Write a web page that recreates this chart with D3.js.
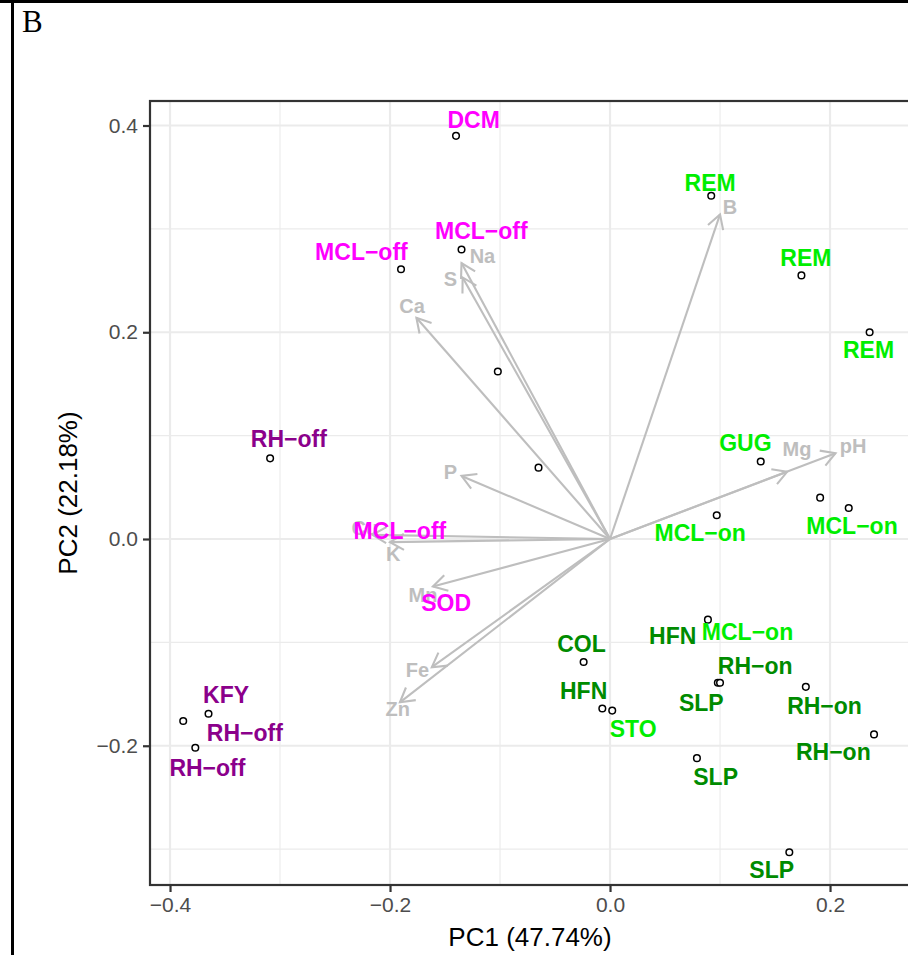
<!DOCTYPE html>
<html>
<head>
<meta charset="utf-8">
<script src="https://cdn.jsdelivr.net/npm/d3@7"></script>
<style>
  body { margin: 0; background: #fff; }
  svg { display: block; }
  text { font-family: "Liberation Sans", Arial, sans-serif; }
</style>
</head>
<body>
<script>
// PCA biplot, panel B

// sample scores (points)
var pointX = [-0.140, -0.135, -0.190, -0.102, -0.065, -0.309, -0.388, -0.365, -0.377,
              0.092, 0.174, 0.236, 0.137, 0.097, 0.191, 0.217, -0.024, -0.007, 0.002,
              0.089, 0.098, 0.100, 0.178, 0.240, 0.079, 0.163];
var pointY = [0.390, 0.280, 0.261, 0.162, 0.069, 0.078, -0.176, -0.169, -0.202,
              0.332, 0.255, 0.200, 0.075, 0.023, 0.040, 0.030, -0.119, -0.164, -0.166,
              -0.078, -0.139, -0.139, -0.143, -0.189, -0.212, -0.303];

// sample labels (placed by repel in the original)
var labelText = ["DCM", "MCL\u2212off", "MCL\u2212off", "RH\u2212off", "MCL\u2212off", "SOD",
                 "KFY", "RH\u2212off", "RH\u2212off", "REM", "REM", "REM", "GUG",
                 "MCL\u2212on", "MCL\u2212on", "COL", "HFN", "STO", "HFN", "MCL\u2212on",
                 "RH\u2212on", "SLP", "RH\u2212on", "RH\u2212on", "SLP", "SLP"];
var labelGroup = ["a", "a", "a", "b", "a", "a", "b", "b", "b", "c", "c", "c", "c",
                  "c", "c", "d", "d", "c", "d", "c", "d", "d", "d", "d", "d", "d"];
var labelX = [-0.124, -0.117, -0.226, -0.292, -0.191, -0.149, -0.349, -0.332, -0.366,
              0.091, 0.178, 0.235, 0.123, 0.082, 0.220, -0.026, -0.024, 0.021, 0.057,
              0.125, 0.132, 0.083, 0.195, 0.203, 0.096, 0.147];
var labelY = [0.406, 0.298, 0.278, 0.097, 0.008, -0.062, -0.151, -0.187, -0.221,
              0.345, 0.272, 0.183, 0.093, 0.006, 0.013, -0.101, -0.147, -0.184, -0.094,
              -0.090, -0.123, -0.158, -0.161, -0.206, -0.230, -0.320];

// variable loadings (arrows)
var varName = ["B", "Na", "S", "Ca", "P", "Cu", "K", "Mn", "Fe", "Zn", "Mg", "pH"];
var varX = [0.100, -0.135, -0.134, -0.176, -0.135, -0.216, -0.200, -0.161, -0.162, -0.191, 0.161, 0.205];
var varY = [0.314, 0.267, 0.253, 0.214, 0.061, 0.004, -0.003, -0.046, -0.124, -0.158, 0.065, 0.083];
var varLabelX = [0.109, -0.116, -0.145, -0.180, -0.145, -0.223, -0.197, -0.170, -0.175, -0.193, 0.170, 0.221];
var varLabelY = [0.321, 0.274, 0.252, 0.226, 0.065, 0.011, -0.014, -0.054, -0.127, -0.164, 0.087, 0.090];

var xTicks = [-0.4, -0.2, 0.0, 0.2];
var yTicks = [-0.2, 0.0, 0.2, 0.4];
var xMinor = [-0.3, -0.1, 0.1];
var yMinor = [-0.3, -0.1, 0.1, 0.3];

var groupColor = {a: "#FF00FF", b: "#8B008B", c: "#00EE00", d: "#008B00"};

var W = 908, H = 955;
var panel = {left: 150, top: 101, right: 910, bottom: 885};

var svg = d3.select("body").append("svg")
  .attr("width", W)
  .attr("height", H);

var x = d3.scaleLinear().domain([-0.4182, 0.2727]).range([panel.left, panel.right]);
var y = d3.scaleLinear().domain([-0.3347, 0.4237]).range([panel.bottom, panel.top]);

// outer frame of the figure
svg.append("rect").attr("x", 0).attr("y", 0).attr("width", W).attr("height", 3).attr("fill", "#000");
svg.append("rect").attr("x", 11).attr("y", 0).attr("width", 3).attr("height", H).attr("fill", "#000");

svg.append("text")
  .attr("x", 22).attr("y", 32)
  .style("font-family", "'Liberation Serif', 'Times New Roman', serif")
  .style("font-size", "31px")
  .text("B");

var plot = svg.append("g");

// grid
plot.selectAll(".vminor").data(xMinor).enter().append("line")
  .attr("x1", d => x(d)).attr("x2", d => x(d))
  .attr("y1", panel.top).attr("y2", panel.bottom)
  .attr("stroke", "#EBEBEB").attr("stroke-width", 1.1);
plot.selectAll(".hminor").data(yMinor).enter().append("line")
  .attr("y1", d => y(d)).attr("y2", d => y(d))
  .attr("x1", panel.left).attr("x2", panel.right)
  .attr("stroke", "#EBEBEB").attr("stroke-width", 1.1);
plot.selectAll(".vmajor").data(xTicks).enter().append("line")
  .attr("x1", d => x(d)).attr("x2", d => x(d))
  .attr("y1", panel.top).attr("y2", panel.bottom)
  .attr("stroke", "#EBEBEB").attr("stroke-width", 2.2);
plot.selectAll(".hmajor").data(yTicks).enter().append("line")
  .attr("y1", d => y(d)).attr("y2", d => y(d))
  .attr("x1", panel.left).attr("x2", panel.right)
  .attr("stroke", "#EBEBEB").attr("stroke-width", 2.2);

// arrows
var arrowGrey = "#BEBEBE";
var headLen = 16, headAng = Math.PI / 6;
varName.forEach(function(n, i) {
  var x0 = x(0), y0 = y(0), x1 = x(varX[i]), y1 = y(varY[i]);
  plot.append("line")
    .attr("x1", x0).attr("y1", y0).attr("x2", x1).attr("y2", y1)
    .attr("stroke", arrowGrey).attr("stroke-width", 2.1);
  var a = Math.atan2(y1 - y0, x1 - x0);
  var p1 = [x1 - headLen * Math.cos(a - headAng), y1 - headLen * Math.sin(a - headAng)];
  var p2 = [x1 - headLen * Math.cos(a + headAng), y1 - headLen * Math.sin(a + headAng)];
  plot.append("path")
    .attr("d", "M" + p1 + "L" + [x1, y1] + "L" + p2)
    .attr("fill", "none")
    .attr("stroke", arrowGrey).attr("stroke-width", 2.1);
});

plot.selectAll(".varlab").data(varName).enter().append("text")
  .attr("x", (d, i) => x(varLabelX[i]))
  .attr("y", (d, i) => y(varLabelY[i]))
  .attr("dy", "0.36em")
  .attr("text-anchor", "middle")
  .style("font-size", "20px")
  .style("font-weight", "bold")
  .attr("fill", arrowGrey)
  .text(d => d);

// points
plot.selectAll(".pt").data(pointX).enter().append("circle")
  .attr("cx", d => x(d))
  .attr("cy", (d, i) => y(pointY[i]))
  .attr("r", 3.3)
  .attr("fill", "#fff")
  .attr("stroke", "#000")
  .attr("stroke-width", 1.5);

// sample labels
plot.selectAll(".lab").data(labelText).enter().append("text")
  .attr("x", (d, i) => x(labelX[i]))
  .attr("y", (d, i) => y(labelY[i]))
  .attr("dy", "0.36em")
  .attr("text-anchor", "middle")
  .style("font-size", "23px")
  .style("font-weight", "bold")
  .attr("fill", (d, i) => groupColor[labelGroup[i]])
  .text(d => d);

// panel border
plot.append("rect")
  .attr("x", panel.left).attr("y", panel.top)
  .attr("width", panel.right - panel.left).attr("height", panel.bottom - panel.top)
  .attr("fill", "none").attr("stroke", "#333333").attr("stroke-width", 2.2);

// axes
var fmt = d => d3.format(".1f")(d).replace("-", "\u2212");
var xAxis = svg.append("g")
  .attr("transform", "translate(0," + panel.bottom + ")")
  .call(d3.axisBottom(x).tickValues(xTicks).tickFormat(fmt).tickSize(7).tickPadding(5));
var yAxis = svg.append("g")
  .attr("transform", "translate(" + panel.left + ",0)")
  .call(d3.axisLeft(y).tickValues(yTicks).tickFormat(fmt).tickSize(7).tickPadding(5));
[xAxis, yAxis].forEach(function(g) {
  g.select(".domain").remove();
  g.selectAll(".tick line").attr("stroke", "#333333").attr("stroke-width", 2.2);
  g.selectAll(".tick text")
    .attr("fill", "#4D4D4D")
    .style("font-size", "21px")
    .style("font-family", "'Liberation Sans', Arial, sans-serif");
});

svg.append("text")
  .attr("x", (panel.left + panel.right) / 2)
  .attr("y", 946)
  .attr("text-anchor", "middle")
  .style("font-size", "26px")
  .text("PC1 (47.74%)");

svg.append("text")
  .attr("transform", "translate(77," + (panel.top + panel.bottom) / 2 + ") rotate(-90)")
  .attr("text-anchor", "middle")
  .style("font-size", "26px")
  .text("PC2 (22.18%)");
</script>
</body>
</html>
